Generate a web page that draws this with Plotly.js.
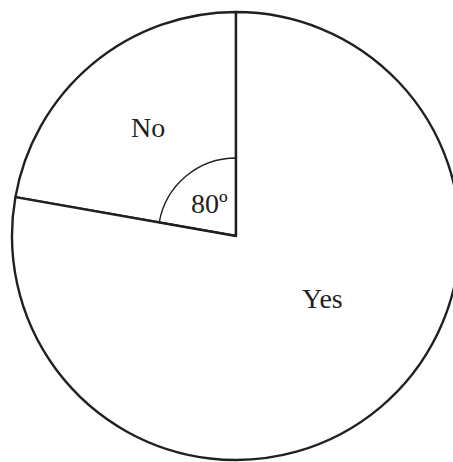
<!DOCTYPE html>
<html>
<head>
<meta charset="utf-8">
<script src="https://cdn.plot.ly/plotly-3.0.1.min.js"></script>
<style>
html, body { margin: 0; padding: 0; overflow: hidden; background: #fff; }
#chart { width: 462px; height: 462px; }
</style>
</head>
<body>
<div id="chart"></div>
<script>
// Data
var labels = ["No", "Yes"];
var angles = [80, 280];          // degrees
var angleLabel = "80º";

var lineColor = "#231f20";
var fontFamily = "Liberation Serif, Times New Roman, serif";

var W = 462, H = 462;
var margin = {l: 12, r: 2, t: 12, b: 2};
var plotW = W - margin.l - margin.r, plotH = H - margin.t - margin.b;
function px(x) { return (x - margin.l) / plotW; }
function py(y) { return 1 - (y - margin.t) / plotH; }

var innerR = 78 / plotW; // fraction of plot width
var startRot = -angles[0];

var mainPie = {
  type: "pie",
  labels: labels,
  values: angles,
  sort: false,
  direction: "clockwise",
  rotation: startRot,
  textinfo: "none",
  hoverinfo: "none",
  marker: {colors: ["#ffffff", "#ffffff"], line: {color: lineColor, width: 2.4}},
  domain: {x: [0, 1], y: [0, 1]},
  showlegend: false
};

var arcPie = {
  type: "pie",
  labels: labels,
  values: angles,
  sort: false,
  direction: "clockwise",
  rotation: startRot,
  textinfo: "none",
  hoverinfo: "none",
  marker: {colors: ["rgba(0,0,0,0)", "rgba(0,0,0,0)"],
           line: {color: [lineColor, "rgba(0,0,0,0)"], width: 1.4}},
  domain: {x: [0.5 - innerR, 0.5 + innerR], y: [0.5 - innerR, 0.5 + innerR]},
  showlegend: false
};

var annFont = {family: fontFamily, size: 28, color: "#231f20"};
var layout = {
  width: W, height: H,
  margin: margin,
  paper_bgcolor: "#ffffff",
  plot_bgcolor: "#ffffff",
  showlegend: false,
  annotations: [
    {text: labels[0], x: px(147.5), y: py(128), xref: "paper", yref: "paper",
     xanchor: "center", yanchor: "middle", showarrow: false, font: annFont},
    {text: labels[1], x: px(322.5), y: py(298), xref: "paper", yref: "paper",
     xanchor: "center", yanchor: "middle", showarrow: false, font: annFont},
    {text: angleLabel, x: px(209), y: py(203), xref: "paper", yref: "paper",
     xanchor: "center", yanchor: "middle", showarrow: false, font: annFont}
  ]
};

Plotly.newPlot("chart", [mainPie, arcPie], layout, {staticPlot: true, displayModeBar: false});
</script>
</body>
</html>
